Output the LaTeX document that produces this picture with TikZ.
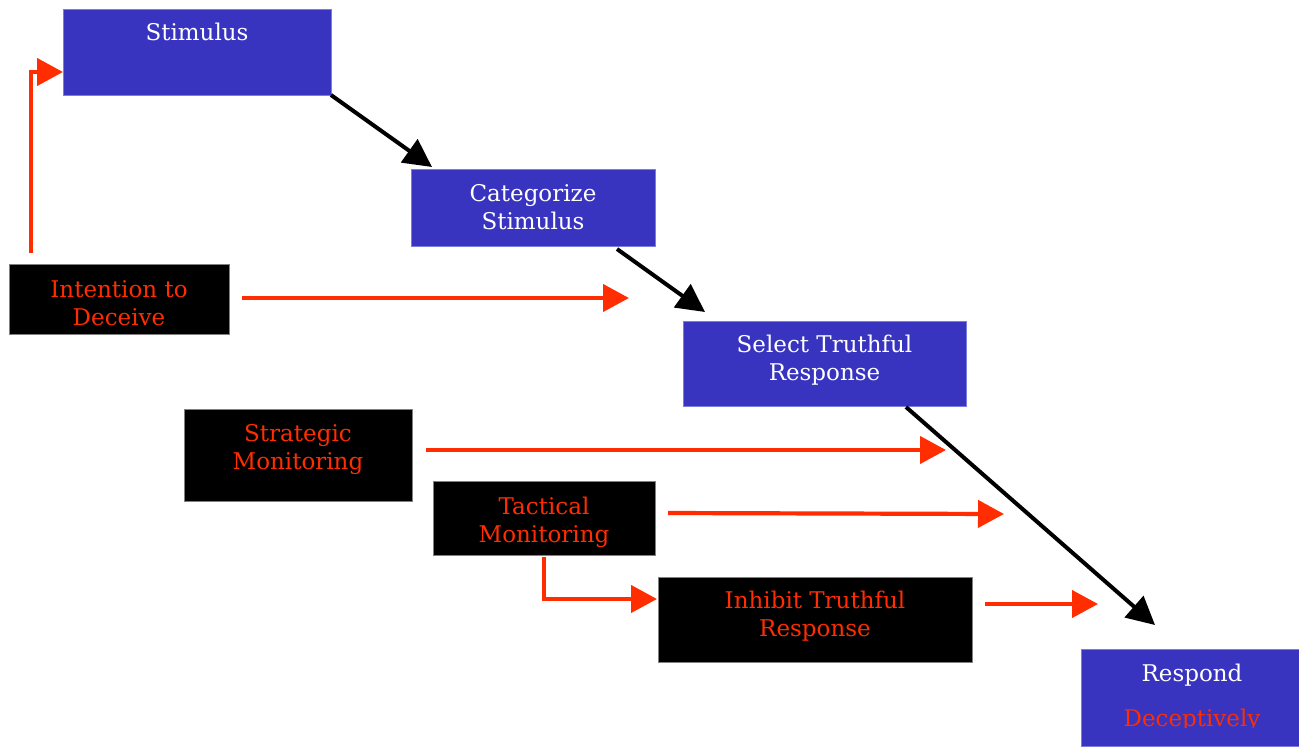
\documentclass[tikz,border=0pt]{standalone}
\usepackage{fontspec}
\setmainfont{DejaVu Serif}
\usetikzlibrary{arrows.meta}
\definecolor{boxblue}{RGB}{56,52,191}
\definecolor{edgeblue}{RGB}{125,122,225}
\definecolor{arrred}{RGB}{255,45,0}
\begin{document}
\begin{tikzpicture}[x=0.5pt,y=-0.5pt,
  txt/.style={font=\fontsize{11.5}{14}\selectfont},
  bbox/.style={fill=boxblue, draw=edgeblue, line width=0.4pt,
    anchor=north west, inner sep=0pt, outer sep=0pt},
  kbox/.style={fill=black, draw=gray, line width=0.4pt,
    anchor=north west, inner sep=0pt, outer sep=0pt},
  wlab/.style={txt, text=white, align=center, inner sep=0pt},
  rlab/.style={txt, text=arrred, align=center, inner sep=0pt},
  redarr/.style={draw=arrred, line width=2.1pt, -{Triangle[length=13pt,width=13.5pt]}},
  blkarr/.style={draw=black, line width=2pt, -{Triangle[length=14pt,width=14pt]}}]
\useasboundingbox (0,0) rectangle (1299,746);

% boxes
\node[bbox, minimum width=134pt, minimum height=43pt] (stim) at (63,9) {};
\node[txt, text=white, anchor=base] (stimtxt) at (197,40) {Stimulus};
\node[bbox, minimum width=122pt, minimum height=38.5pt,
  label={[wlab]center:Categorize\\Stimulus}] (cat) at (411,169) {};
\node[bbox, minimum width=141.5pt, minimum height=42.5pt,
  label={[wlab,yshift=1.5pt]center:Select Truthful\\Response}] (sel) at (683,321) {};
\node[kbox, minimum width=110pt, minimum height=35pt,
  label={[rlab,yshift=-2pt]center:Intention to\\Deceive}] (int) at (9,264) {};
\node[kbox, minimum width=114pt, minimum height=46pt,
  label={[rlab,yshift=2.5pt]center:Strategic\\Monitoring}] (str) at (184,409) {};
\node[kbox, minimum width=111pt, minimum height=37pt,
  label={[rlab,yshift=-2pt]center:Tactical\\Monitoring}] (tac) at (433,481) {};
\node[kbox, minimum width=157pt, minimum height=42.5pt,
  label={[rlab,yshift=1.5pt]center:Inhibit Truthful\\Response}] (inh) at (658,577) {};
\node[bbox, minimum width=109pt, minimum height=48.5pt] (resp) at (1081,649) {};
\node[txt, text=white, anchor=base] (resptxt) at (1192,681) {Respond};
\begin{scope}
  \clip (1081,649) rectangle (1299,727);
  \node[txt, text=arrred, anchor=base] (decep) at (1192,726) {Deceptively};
\end{scope}

% coordinates
\coordinate (c1) at (432,167);
\coordinate (c2s) at (617,249);
\coordinate (c2e) at (705,312);
\coordinate (c3s) at (906,407);
\coordinate (c3e) at (1155,625);
\coordinate (r1s) at (31,253);
\coordinate (r1e) at (63,72);
\coordinate (r2s) at (242,298);
\coordinate (r2e) at (629,298);
\coordinate (r3s) at (426,450);
\coordinate (r3e) at (946,450);
\coordinate (r4s) at (668,513);
\coordinate (r4e) at (1004,514);
\coordinate (r5s) at (544,557);
\coordinate (r5e) at (657,599);
\coordinate (r6s) at (985,604);
\coordinate (r6e) at (1098,604);

% black arrows
\draw[blkarr] (stim.south east) -- (c1);
\draw[blkarr] (c2s) -- (c2e);
\draw[blkarr] (c3s) -- (c3e);

% red arrows
\draw[redarr] (r1s) |- (r1e);
\draw[redarr] (r2s) -- (r2e);
\draw[redarr] (r3s) -- (r3e);
\draw[redarr] (r4s) -- (r4e);
\draw[redarr] (r5s) |- (r5e);
\draw[redarr] (r6s) -- (r6e);
\end{tikzpicture}
\end{document}
